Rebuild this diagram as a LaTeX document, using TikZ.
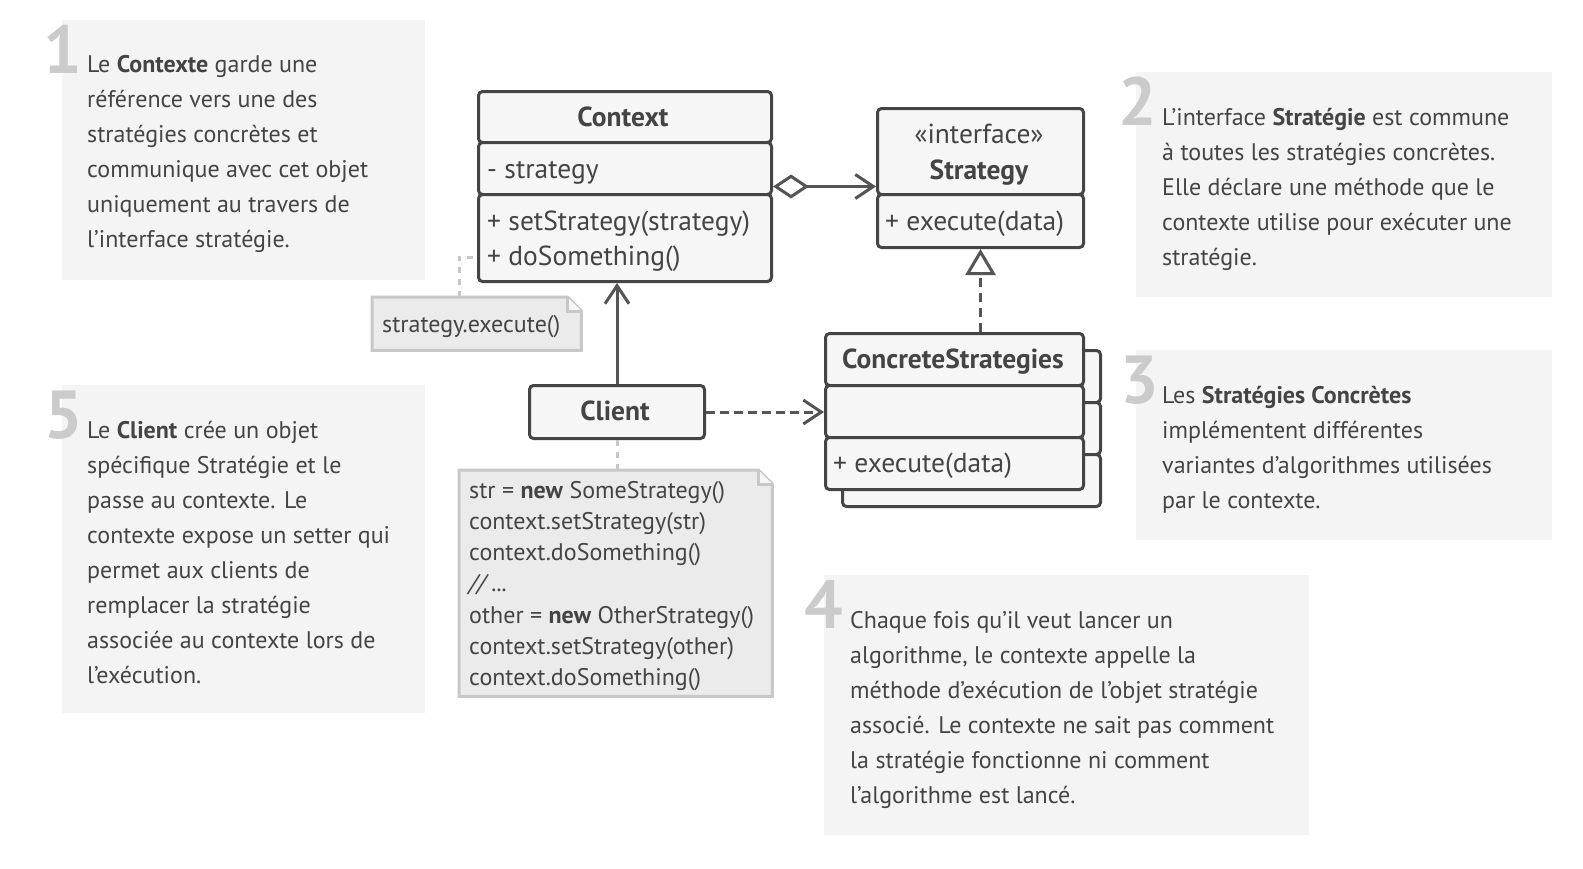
\documentclass[tikz,border=0pt]{standalone}
\usepackage{fontspec}
\setmainfont{PT Sans}
\newfontfamily\umlfont{PT Sans}
\usetikzlibrary{arrows.meta,calc}
\definecolor{ink}{HTML}{454545}
\definecolor{txt}{HTML}{444444}
\definecolor{panel}{HTML}{F4F4F4}
\definecolor{digit}{HTML}{CBCBCB}
\definecolor{boxfill}{HTML}{F6F6F6}
\definecolor{notefill}{HTML}{EBEBEB}
\definecolor{noteline}{HTML}{C8C8C8}
\definecolor{wire}{HTML}{555555}
\begin{document}
\begin{tikzpicture}[x=1pt,y=-1pt,
  panelbox/.style={fill=panel,draw=none,inner sep=0,anchor=north west},
  digitlbl/.style={font=\fontsize{68}{68}\selectfont\bfseries,text=digit,inner sep=0,anchor=base west},
  para/.style={font=\fontsize{24}{35}\selectfont,text=txt,inner sep=0,anchor=base west},
  sec/.style={draw=ink,line width=3pt,fill=boxfill,rounded corners=4pt,inner sep=0,anchor=north west},
  umltxt/.style={font=\umlfont\fontsize{27.5}{35}\selectfont,text=txt,inner sep=0,anchor=base west},
  umltitle/.style={font=\umlfont\fontsize{27.5}{35}\selectfont\bfseries,text=txt,inner sep=0,anchor=base},
  notetxt/.style={font=\umlfont\fontsize{24}{31.3}\selectfont,text=txt,inner sep=0,anchor=base west},
  notebox/.style={draw=none,inner sep=0,anchor=north west},
  noteshape/.style={fill=notefill,draw=noteline,line width=3pt,line join=miter},
  notelink/.style={draw=noteline,line width=3pt,dash pattern=on 6pt off 6pt},
  wireline/.style={draw=wire,line width=3pt},
  barb/.style={-{Straight Barb[length=18pt,width=24pt,line width=3pt]}},
]
\fill[white] (0,0) rectangle (1583,868);
\useasboundingbox (0,0) rectangle (1583,868);

% ---------- explanation panels ----------
\node[panelbox,minimum width=363,minimum height=260] (p1) at (62,20) {};
\node[panelbox,minimum width=416,minimum height=225] (p2) at (1136,72) {};
\node[panelbox,minimum width=416,minimum height=190] (p3) at (1136,350) {};
\node[panelbox,minimum width=485,minimum height=260] (p4) at (824,575) {};
\node[panelbox,minimum width=363,minimum height=328] (p5) at (62,385) {};

\node[digitlbl] (d1) at (43,73) {1};
\node[digitlbl] (d2) at (1118,125) {2};
\node[digitlbl] (d3) at (1120,403) {3};
\node[digitlbl] (d4) at (804,628) {4};
\node[digitlbl] (d5) at (44,438) {5};

\node[para] (t1) at (87,72) {\parbox[t]{340pt}{Le \textbf{Contexte} garde une\\référence vers une des\\stratégies concrètes et\\communique avec cet objet\\uniquement au travers de\\l’interface stratégie.}};
\node[para] (t2) at (1162,125) {\parbox[t]{390pt}{L’interface \textbf{Stratégie} est commune\\à toutes les stratégies concrètes.\\Elle déclare une méthode que le\\contexte utilise pour exécuter une\\stratégie.}};
\node[para] (t3) at (1162,403) {\parbox[t]{390pt}{Les \textbf{Stratégies Concrètes}\\implémentent différentes\\variantes d’algorithmes utilisées\\par le contexte.}};
\node[para] (t4) at (850,628) {\parbox[t]{460pt}{Chaque fois qu’il veut lancer un\\algorithme, le contexte appelle la\\méthode d’exécution de l’objet stratégie\\associé. Le contexte ne sait pas comment\\la stratégie fonctionne ni comment\\l’algorithme est lancé.}};
\node[para] (t5) at (87,438) {\parbox[t]{340pt}{Le \textbf{Client} crée un objet\\spécifique Stratégie et le\\passe au contexte. Le\\contexte expose un setter qui\\permet aux clients de\\remplacer la stratégie\\associée au contexte lors de\\l’exécution.}};

% ---------- notes ----------
\node[notebox,minimum width=209,minimum height=53] (note1) at (372,297) {};
\draw[noteshape] (note1.north west) -- ([xshift=-14pt]note1.north east) -- ([yshift=-14pt]note1.north east) -- (note1.south east) -- (note1.south west) -- cycle;
\draw[noteshape,fill=boxfill] ([xshift=-14pt]note1.north east) -- ([xshift=-14pt,yshift=-14pt]note1.north east) -- ([yshift=-14pt]note1.north east);
\node[notetxt] (n1t) at (382,332) {strategy.execute()};

\node[notebox,minimum width=313,minimum height=226] (note2) at (459,470) {};
\draw[noteshape] (note2.north west) -- ([xshift=-14pt]note2.north east) -- ([yshift=-14pt]note2.north east) -- (note2.south east) -- (note2.south west) -- cycle;
\draw[noteshape,fill=boxfill] ([xshift=-14pt]note2.north east) -- ([xshift=-14pt,yshift=-14pt]note2.north east) -- ([yshift=-14pt]note2.north east);
\node[notetxt] (n2t) at (469,498) {\parbox[t]{300pt}{str = \textbf{new} SomeStrategy()\\context.setStrategy(str)\\context.doSomething()\\\textit{// ...}\\other = \textbf{new} OtherStrategy()\\context.setStrategy(other)\\context.doSomething()}};

% ---------- Context ----------
\node[sec,minimum width=293,minimum height=51] (ctxh) at (477,90) {};
\node[sec,minimum width=293,minimum height=52] (ctxa) at (477,141) {};
\node[sec,minimum width=293,minimum height=87] (ctxo) at (477,193) {};
\node[umltitle] (ctxt) at (623,126) {Context};
\node[umltxt] (ctxat) at (487,178) {- strategy};
\node[umltxt] (ctxot) at (487,230) {\parbox[t]{280pt}{+ setStrategy(strategy)\\+ doSomething()}};

% ---------- Strategy ----------
\node[sec,minimum width=206,minimum height=86] (strh) at (876,107) {};
\node[sec,minimum width=206,minimum height=53] (stro) at (876,193) {};
\node[umltxt,anchor=base] (strst) at (979,143) {«interface»};
\node[umltitle] (strt) at (979,179) {Strategy};
\node[umltxt] (strot) at (885,230) {+ execute(data)};

% ---------- ConcreteStrategies (stack) ----------
\node[sec,minimum width=258,minimum height=52] (csb1) at (841,349) {};
\node[sec,minimum width=258,minimum height=52] (csb2) at (841,401) {};
\node[sec,minimum width=258,minimum height=52] (csb3) at (841,453) {};
\node[sec,minimum width=258,minimum height=52] (csh) at (824,332) {};
\node[sec,minimum width=258,minimum height=52] (csm) at (824,384) {};
\node[sec,minimum width=258,minimum height=52] (cso) at (824,436) {};
\node[umltitle] (cst) at (953,368) {ConcreteStrategies};
\node[umltxt] (csot) at (833,472) {+ execute(data)};

% ---------- Client ----------
\node[sec,minimum width=175,minimum height=53] (cli) at (528,384) {};
\node[umltitle] (clit) at (615,420) {Client};

% ---------- connectors ----------
\draw[wireline,{Diamond[length=36pt,width=24pt,line width=3pt,fill=white]}-{Straight Barb[length=18pt,width=24pt,line width=3pt]}]
  ([yshift=-18pt]ctxa.east) -- ([yshift=-35pt]strh.west);
\draw[wireline,dash pattern=on 9pt off 6pt,-{Triangle[length=26pt,width=30pt,line width=3pt,open,fill=white]}]
  (stro.south |- csh.north) -- (stro.south);
\draw[wireline,barb] (cli.north) -- (cli.north |- ctxo.south);
\draw[wireline,barb,dash pattern=on 9pt off 5pt] (cli.east) -- (cli.east -| csm.west);
\draw[notelink] (cli.south) -- (cli.south |- note2.north);
\coordinate (n1top) at ([xshift=87pt]note1.north west);
\draw[notelink] (n1top) |- ([yshift=-19pt]ctxo.west);
\end{tikzpicture}
\end{document}
